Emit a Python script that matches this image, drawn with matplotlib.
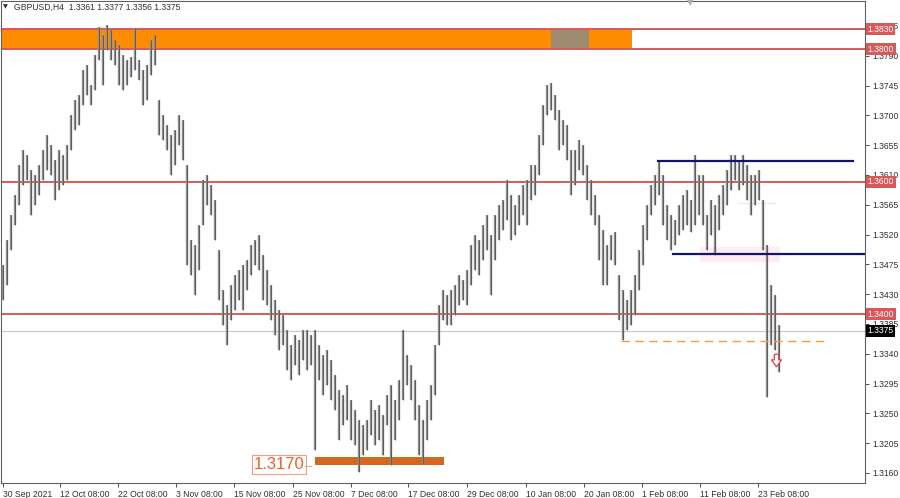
import numpy as np
import matplotlib.pyplot as plt
from matplotlib.path import Path
from matplotlib.transforms import blended_transform_factory

plt.rcParams['font.family'] = ['Liberation Sans', 'DejaVu Sans']

# GBPUSD H4, one entry per ~3 candles
highs = [1.3474, 1.3512, 1.3550, 1.3580, 1.3625, 1.3648, 1.3640, 1.3618, 1.3610, 1.3625,
         1.3648, 1.3670, 1.3655, 1.3633, 1.3648, 1.3640, 1.3655, 1.3701, 1.3723, 1.3731,
         1.3768, 1.3776, 1.3746, 1.3791, 1.3833, 1.3821, 1.3836, 1.3829, 1.3814, 1.3806,
         1.3791, 1.3784, 1.3788, 1.3832, 1.3784, 1.3768, 1.3776, 1.3814, 1.3821, 1.3723,
         1.3701, 1.3685, 1.3670, 1.3678, 1.3701, 1.3693, 1.3625, 1.3512, 1.3504, 1.3535,
         1.3602, 1.3610, 1.3595, 1.3572, 1.3497, 1.3436, 1.3414, 1.3444, 1.3459, 1.3467,
         1.3474, 1.3482, 1.3504, 1.3512, 1.3519, 1.3489, 1.3467, 1.3444, 1.3421, 1.3406,
         1.3399, 1.3376, 1.3353, 1.3368, 1.3361, 1.3376, 1.3376, 1.3368, 1.3376, 1.3353,
         1.3338, 1.3345, 1.3330, 1.3308, 1.3285, 1.3278, 1.3293, 1.3270, 1.3255, 1.3240,
         1.3232, 1.3240, 1.3270, 1.3255, 1.3263, 1.3248, 1.3278, 1.3293, 1.3270, 1.3300,
         1.3376, 1.3338, 1.3323, 1.3300, 1.3263, 1.3240, 1.3270, 1.3293, 1.3353, 1.3414,
         1.3436, 1.3429, 1.3436, 1.3444, 1.3459, 1.3451, 1.3467, 1.3504, 1.3519, 1.3512,
         1.3535, 1.3550, 1.3519, 1.3550, 1.3565, 1.3572, 1.3602, 1.3580, 1.3565, 1.3580,
         1.3595, 1.3602, 1.3625, 1.3625, 1.3670, 1.3716, 1.3746, 1.3749, 1.3731, 1.3708,
         1.3693, 1.3685, 1.3648, 1.3648, 1.3663, 1.3655, 1.3625, 1.3602, 1.3580, 1.3550,
         1.3527, 1.3504, 1.3519, 1.3524, 1.3459, 1.3436, 1.3421, 1.3436, 1.3459, 1.3497,
         1.3535, 1.3565, 1.3595, 1.3610, 1.3633, 1.3610, 1.3565, 1.3550, 1.3542, 1.3565,
         1.3580, 1.3587, 1.3572, 1.3640, 1.3610, 1.3610, 1.3550, 1.3572, 1.3565, 1.3580,
         1.3595, 1.3618, 1.3640, 1.3640, 1.3633, 1.3640, 1.3625, 1.3610, 1.3610, 1.3618,
         1.3572, 1.3504, 1.3444, 1.3429, 1.3383]
lows = [1.3421, 1.3444, 1.3497, 1.3535, 1.3565, 1.3595, 1.3602, 1.3550, 1.3565, 1.3580,
        1.3602, 1.3618, 1.3610, 1.3572, 1.3587, 1.3595, 1.3602, 1.3648, 1.3678, 1.3685,
        1.3716, 1.3731, 1.3716, 1.3738, 1.3784, 1.3746, 1.3799, 1.3784, 1.3776, 1.3746,
        1.3738, 1.3746, 1.3758, 1.3768, 1.3753, 1.3716, 1.3723, 1.3761, 1.3776, 1.3670,
        1.3663, 1.3648, 1.3610, 1.3625, 1.3655, 1.3633, 1.3474, 1.3459, 1.3429, 1.3467,
        1.3535, 1.3565, 1.3550, 1.3512, 1.3421, 1.3383, 1.3353, 1.3391, 1.3406, 1.3421,
        1.3406, 1.3436, 1.3459, 1.3474, 1.3467, 1.3421, 1.3414, 1.3391, 1.3368, 1.3345,
        1.3353, 1.3315, 1.3300, 1.3323, 1.3308, 1.3330, 1.3315, 1.3323, 1.3195, 1.3300,
        1.3278, 1.3293, 1.3270, 1.3255, 1.3210, 1.3232, 1.3240, 1.3210, 1.3202, 1.3161,
        1.3187, 1.3195, 1.3217, 1.3202, 1.3210, 1.3187, 1.3232, 1.3172, 1.3210, 1.3240,
        1.3270, 1.3293, 1.3270, 1.3240, 1.3187, 1.3175, 1.3210, 1.3240, 1.3278, 1.3353,
        1.3391, 1.3383, 1.3383, 1.3399, 1.3414, 1.3421, 1.3414, 1.3444, 1.3467, 1.3459,
        1.3482, 1.3497, 1.3429, 1.3482, 1.3512, 1.3527, 1.3542, 1.3512, 1.3519, 1.3535,
        1.3550, 1.3535, 1.3572, 1.3580, 1.3610, 1.3655, 1.3701, 1.3708, 1.3693, 1.3648,
        1.3655, 1.3633, 1.3580, 1.3595, 1.3618, 1.3610, 1.3572, 1.3550, 1.3535, 1.3482,
        1.3444, 1.3444, 1.3482, 1.3474, 1.3391, 1.3361, 1.3376, 1.3383, 1.3399, 1.3436,
        1.3474, 1.3512, 1.3550, 1.3565, 1.3580, 1.3535, 1.3512, 1.3497, 1.3504, 1.3519,
        1.3527, 1.3535, 1.3524, 1.3535, 1.3550, 1.3535, 1.3497, 1.3519, 1.3489, 1.3527,
        1.3550, 1.3565, 1.3587, 1.3602, 1.3587, 1.3595, 1.3572, 1.3550, 1.3565, 1.3572,
        1.3497, 1.3275, 1.3353, 1.3345, 1.3312]

date_labels = ['30 Sep 2021', '12 Oct 08:00', '22 Oct 08:00', '3 Nov 08:00', '15 Nov 08:00',
               '25 Nov 08:00', '7 Dec 08:00', '17 Dec 08:00', '29 Dec 08:00', '10 Jan 08:00',
               '20 Jan 08:00', '1 Feb 08:00', '11 Feb 08:00', '23 Feb 08:00']
date_bars = [0, 14.25, 28.75, 43.25, 57.75, 72.5, 87, 101.25, 116, 130.75, 145.25, 159.75,
             174.25, 188.75]

price_ticks = [1.3160, 1.3205, 1.3250, 1.3295, 1.3340, 1.3385, 1.3430, 1.3475, 1.3520,
               1.3565, 1.3610, 1.3655, 1.3700, 1.3745, 1.3790, 1.3835]
red_levels = [1.3830, 1.3800, 1.3600, 1.3400]
last_price = 1.3375
support_1 = 1.3170
header = 'GBPUSD,H4  1.3361 1.3377 1.3356 1.3375'

x = np.arange(len(highs))

fig = plt.figure(figsize=(9, 4.98), dpi=100)
ax = fig.add_axes([1 / 900, 15 / 498, 864 / 900, 482 / 498])
ax.set_xlim(-0.5, 215.5)
ax.set_ylim(1.31449, 1.38727)

# zone boxes
ax.fill_between([-0.5, 157.25], 1.3800, 1.3830, color='#ff8c00', lw=0, zorder=1)
ax.fill_between([137, 146.5], 1.3800, 1.3830, color='#9e8a6e', lw=0, zorder=1)
ax.fill_between([174.25, 194.25], 1.3479, 1.3501, color='#fdecf2', lw=0, zorder=1)
ax.plot([184, 193], [1.3567, 1.3567], color='#fbe4ec', lw=1.0, zorder=1)
ax.fill_between([78, 110.25], 1.3172, 1.3184, color='#d2691e', lw=0, zorder=3)

# levels
for lv in red_levels:
    ax.axhline(lv, color='#d9595a', lw=1.4, zorder=2)
ax.axhline(last_price, color='#c8c8c8', lw=0.8, zorder=1)
ax.plot([163.75, 212.5], [1.3631, 1.3631], color='#14146e', lw=1.6, zorder=4)
ax.plot([167.5, 215.5], [1.3491, 1.3491], color='#14146e', lw=1.6, zorder=4)
ax.plot([154.5, 206.25], [1.3359, 1.3359], color='#f0a030', lw=1.0, ls=(0, (6, 4)), zorder=4)

# candles
ax.vlines(x, lows, highs, color='#8e8e8e', lw=1.7, zorder=3)
ax.vlines(x, lows, highs, color='#555555', lw=0.6, zorder=3)

# hollow down arrow
arrow = Path([(-0.35, 1), (0.35, 1), (0.35, 0.1), (0.8, 0.1), (0, -1), (-0.8, 0.1),
              (-0.35, 0.1), (-0.35, 1)])
ax.plot([193.3], [1.3330], marker=arrow, markersize=9, mfc='white', mec='#e04040',
        mew=0.9, zorder=5)

# 1.3170 label
ax.text(69, 1.3173, '1.3170', color='#e8602c', fontsize=12, ha='center', va='center', zorder=6,
        bbox=dict(boxstyle='square,pad=0.1', fc='white', ec='#f0a080', lw=0.8))
ax.plot([75.5, 77], [support_1, support_1], color='#f0a080', lw=0.8, zorder=6)

# axes look
for s in ax.spines.values():
    s.set_color('#606060')
    s.set_linewidth(0.8)
ax.yaxis.tick_right()
ax.set_yticks(price_ticks)
ax.set_yticklabels(['%.4f' % v for v in price_ticks])
ax.tick_params(axis='y', direction='out', length=3, width=0.6, pad=2, labelsize=6.2,
               colors='#303030')
ax.set_xticks(date_bars)
ax.set_xticklabels(date_labels, ha='left')
ax.tick_params(axis='x', direction='out', length=3, width=0.6, pad=2, labelsize=6.2,
               colors='#303030')

trans = blended_transform_factory(ax.transAxes, ax.transData)
for lv in red_levels:
    ax.text(1.003, lv, '%.4f' % lv, transform=trans, color='white', fontsize=6.2, va='center',
            ha='left', zorder=10, bbox=dict(boxstyle='square,pad=0.18', fc='#d9595a', ec='none'))
ax.text(1.003, last_price, '%.4f' % last_price, transform=trans, color='white', fontsize=6.2,
        va='center', ha='left', zorder=10, bbox=dict(boxstyle='square,pad=0.18', fc='black', ec='none'))

fig.text(3 / 900, 1 - 7 / 498, '\u25bc', fontsize=4.5, va='center', color='#303030',
         family=['DejaVu Sans'])
fig.text(14 / 900, 1 - 7 / 498, header, fontsize=6.2, va='center', color='#303030')
fig.text(690 / 900, 1 - 3 / 498, '\u25bc', fontsize=6, va='center', ha='center', color='#b0b0b0',
         family=['DejaVu Sans'])

fig.savefig('out.png', dpi=100, facecolor='white')
